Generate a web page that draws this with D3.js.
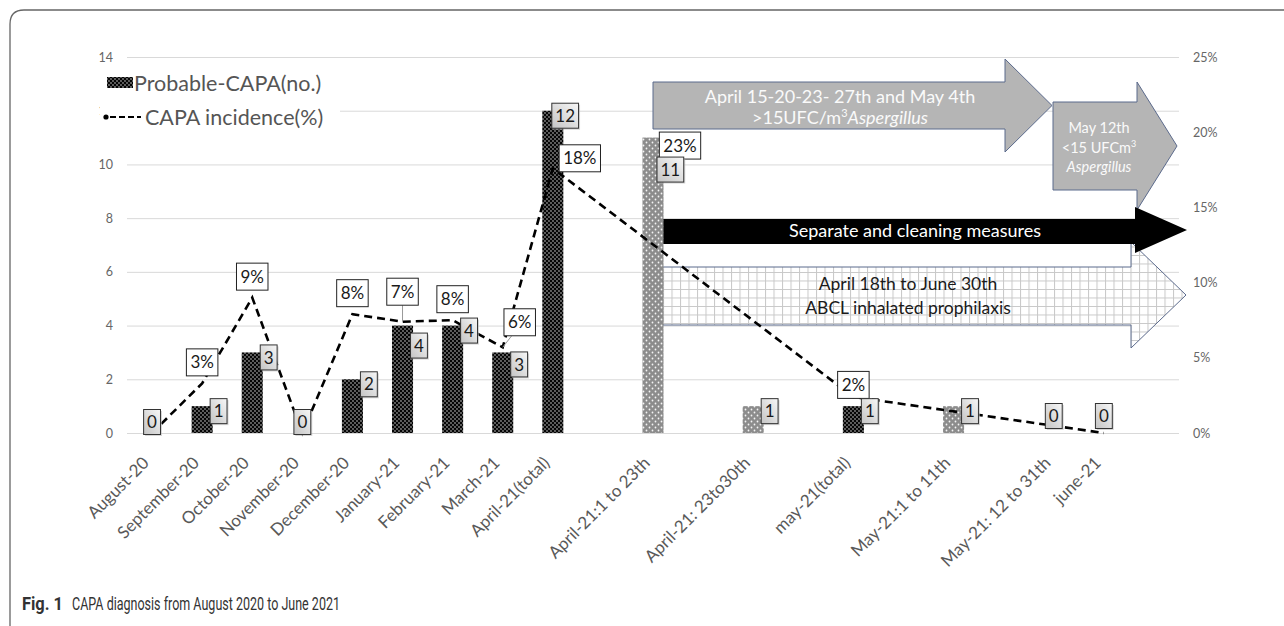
<!DOCTYPE html>
<html><head><meta charset="utf-8">
<script src="https://cdn.jsdelivr.net/npm/d3@7"></script>
<style>body{margin:0;background:#fff}svg{display:block}</style>
</head><body><svg id="c" width="1284" height="626"></svg>
<script>
// ---- data ----
const categories = ["August-20","September-20","October-20","November-20","December-20","January-21","February-21","March-21","April-21(total)","","April-21:1 to 23th","","April-21: 23to30th","","may-21(total)","","May-21:1 to 11th","","May-21: 12 to 31th","june-21",""];
const cases      = [0,1,3,0,2,4,4,3,12,null,11,null,1,null,1,null,1,null,0,0,null];
const barKind    = ["dark","dark","dark","dark","dark","dark","dark","dark","dark",null,"gray",null,"gray",null,"dark",null,"gray",null,"gray","dark",null];
const incidence  = [0,3.3,9,0,7.9,7.4,7.5,5.7,17.6,null,null,null,null,null,2.4,null,null,null,null,0,null];
const incidenceLabels = ["","3%","9%","","8%","7%","8%","6%","18%","","23%","","","","2%","","","","","",""];
const leftTicks  = [0,2,4,6,8,10,12,14];
const rightTicks = [0,0.05,0.10,0.15,0.20,0.25];
const seriesNames = ["Probable-CAPA(no.)","CAPA incidence(%)"];
const caption = ["Fig. 1","CAPA diagnosis from August 2020 to June 2021"];

const FONT = "Lato, 'Open Sans', sans-serif";
const svg = d3.select("#c");
const defs = svg.append("defs");

// patterns
const pd = defs.append("pattern").attr("id","pDark").attr("patternUnits","userSpaceOnUse").attr("width",4).attr("height",4);
pd.append("rect").attr("width",4).attr("height",4).attr("fill","#050505");
pd.append("circle").attr("cx",1).attr("cy",1).attr("r",0.65).attr("fill","#fff");
pd.append("circle").attr("cx",3).attr("cy",3).attr("r",0.65).attr("fill","#fff");
const pg = defs.append("pattern").attr("id","pGray").attr("patternUnits","userSpaceOnUse").attr("width",6).attr("height",6);
pg.append("rect").attr("width",6).attr("height",6).attr("fill","#8c8c8c");
pg.append("circle").attr("cx",1.5).attr("cy",1.5).attr("r",0.9).attr("fill","#f4f4f4");
pg.append("circle").attr("cx",4.5).attr("cy",4.5).attr("r",0.9).attr("fill","#f4f4f4");
const pgrid = defs.append("pattern").attr("id","pGrid").attr("patternUnits","userSpaceOnUse").attr("width",8.5).attr("height",8.5);
pgrid.append("rect").attr("width",8.5).attr("height",8.5).attr("fill","#fff");
pgrid.append("path").attr("d","M0,0.5H8.5M0.5,0V8.5").attr("stroke","#c8c8c8").attr("stroke-width",1);
const lg = defs.append("linearGradient").attr("id","gLab").attr("x1",0).attr("y1",1).attr("x2",1).attr("y2",0);
lg.append("stop").attr("offset","0%").attr("stop-color","#c4c4c4");
lg.append("stop").attr("offset","100%").attr("stop-color","#f7f7f7");

// frame
svg.append("path").attr("d","M10,626V24Q10,10 24,10H1284").attr("fill","none").attr("stroke","#666").attr("stroke-width",1.3);

// scales
const x = d3.scaleBand().domain(d3.range(categories.length)).range([127,1179]).paddingInner(0.58).paddingOuter(0.29);
const yL = d3.scaleLinear().domain([0,14]).range([433,57]);
const yR = d3.scaleLinear().domain([0,0.25]).range([433,57]);
const cx = i => x(i) + x.bandwidth()/2;

// gridlines
svg.append("g").attr("transform","translate(127,0)")
  .call(d3.axisLeft(yL).tickValues(leftTicks).tickSize(-1052).tickFormat(""))
  .call(g=>g.select(".domain").remove())
  .call(g=>g.selectAll("line").attr("stroke","#d9d9d9").attr("stroke-width",1));

// left axis labels
svg.append("g").attr("transform","translate(117,0)")
  .call(d3.axisLeft(yL).tickValues(leftTicks).tickSize(0).tickPadding(4))
  .call(g=>g.select(".domain").remove())
  .call(g=>g.selectAll("text").attr("font-family",FONT).attr("font-size",12.5).attr("fill","#666"));

// right axis labels
svg.append("g").attr("transform","translate(1189,0)")
  .call(d3.axisRight(yR).tickValues(rightTicks).tickSize(0).tickPadding(4).tickFormat(d3.format(".0%")))
  .call(g=>g.select(".domain").remove())
  .call(g=>g.selectAll("text").attr("font-family",FONT).attr("font-size",12.5).attr("fill","#666"));

// x axis labels
svg.append("g").attr("transform","translate(0,442)")
  .call(d3.axisBottom(x).tickSize(0).tickFormat(i=>categories[i]))
  .call(g=>g.select(".domain").remove())
  .call(g=>g.selectAll("text").attr("font-family",FONT).attr("font-size",17).attr("fill","#595959")
     .attr("text-anchor","end").attr("y",0).attr("dy",0).attr("transform","translate(-2,22) rotate(-45)"));

// legend background
svg.append("rect").attr("x",100).attr("y",66).attr("width",240).attr("height",62).attr("fill","#fff");

// arrows (annotations)
const arrow = (x0,x1,by0,by1,hy0,hy1,tx) => `M${x0},${by0}H${x1}V${hy0}L${tx},${(hy0+hy1)/2}L${x1},${hy1}V${by1}H${x0}Z`;
const ann = svg.append("g");
ann.append("path").attr("d",arrow(653,1005,82,129,59,152,1052)).attr("fill","#b5b5b5").attr("stroke","#5b6a8c").attr("stroke-width",1);
ann.append("path").attr("d",arrow(1053,1137,102,190,82,210,1177)).attr("fill","#b5b5b5").attr("stroke","#5b6a8c").attr("stroke-width",1);
ann.append("path").attr("d",arrow(657,1131,267,325,242,348,1186)).attr("fill","url(#pGrid)").attr("stroke","#5b6a8c").attr("stroke-width",1);
ann.append("path").attr("d",arrow(658,1135,219,244,207,253,1187)).attr("fill","#000");

const t1 = ann.append("text").attr("font-family",FONT).attr("fill","#fafafa").attr("text-anchor","middle").attr("font-size",18);
t1.append("tspan").attr("x",840).attr("y",103).text("April 15-20-23- 27th and May 4th");
const l2 = t1.append("tspan").attr("x",840).attr("y",124);
l2.append("tspan").text(">15UFC/m");
l2.append("tspan").attr("font-size",11).attr("dy",-7).text("3");
l2.append("tspan").attr("font-style","italic").attr("dy",7).text("Aspergillus");

const t2 = ann.append("text").attr("font-family",FONT).attr("fill","#fafafa").attr("text-anchor","middle").attr("font-size",14.5);
t2.append("tspan").attr("x",1099).attr("y",133).text("May 12th");
const m2 = t2.append("tspan").attr("x",1099).attr("y",153);
m2.append("tspan").text("<15 UFCm");
m2.append("tspan").attr("font-size",9).attr("dy",-6).text("3");
t2.append("tspan").attr("x",1099).attr("y",172).attr("font-style","italic").text("Aspergillus");

ann.append("text").attr("x",915).attr("y",237).attr("text-anchor","middle").attr("font-family",FONT).attr("font-size",18).attr("fill","#fff").text("Separate and cleaning measures");
const t4 = ann.append("text").attr("font-family",FONT).attr("fill","#1a1a1a").attr("text-anchor","middle").attr("font-size",17.5);
t4.append("tspan").attr("x",908).attr("y",290).text("April 18th to June 30th");
t4.append("tspan").attr("x",908).attr("y",314).text("ABCL inhalated prophilaxis");

// bars
const barData = cases.map((v,i)=>({i,v,k:barKind[i]})).filter(d=>d.v!==null);
svg.append("g").selectAll("rect").data(barData.filter(d=>d.v>0)).join("rect")
  .attr("x",d=>x(d.i)).attr("width",x.bandwidth())
  .attr("y",d=>yL(d.v)).attr("height",d=>yL(0)-yL(d.v))
  .attr("fill",d=>d.k==="dark"?"url(#pDark)":"url(#pGray)");

// incidence line
const lineData = incidence.map((v,i)=>({i,v})).filter(d=>d.v!==null);
svg.append("path").datum(lineData)
  .attr("d",d3.line().x(d=>cx(d.i)).y(d=>yR(d.v/100)))
  .attr("fill","none").attr("stroke","#000").attr("stroke-width",2.6).attr("stroke-dasharray","8,5");

// leader lines
const leaders = svg.append("g").attr("stroke","#999").attr("stroke-width",1);

// percent labels
const pctOff = {5:[0,-30,true],7:[17,-25,true],8:[27,-10],10:[27,8],14:[0,-12]};
incidenceLabels.forEach((lab,i)=>{
  if(!lab) return;
  let px = cx(i), py = incidence[i]!==null ? yR(incidence[i]/100) : yL(cases[i]);
  const o = pctOff[i] || [0,-21];
  const bx = px+o[0], by = py+o[1];
  const g = svg.append("g");
  const t = g.append("text").attr("x",bx).attr("y",by).attr("dy","0.36em").attr("text-anchor","middle")
    .attr("font-family",FONT).attr("font-size",17).attr("fill","#1a1a1a").text(lab);
  const w = t.node().getComputedTextLength()+8, h=27;
  if(o[2]) leaders.append("line").attr("x1",bx-(o[0]?8:0)).attr("y1",by+h/2).attr("x2",px).attr("y2",py);
  g.insert("rect","text").attr("x",bx-w/2).attr("y",by-h/2).attr("width",w).attr("height",h).attr("fill","#fff").attr("stroke","#222").attr("stroke-width",1);
});

// bar value labels
const barOff = {5:[0,15],7:[0,7],8:[-9,0],10:[-4,27]};
barData.forEach(d=>{
  const g = svg.append("g");
  let bx, by;
  if(d.v===0){ bx = cx(d.i); by = d.i>=18 ? yL(0)-17 : yL(0)-11; }
  else { const o = barOff[d.i]||[0,0]; by = yL(d.v)-7+12+o[1]; bx = cx(d.i)+8+o[0]; }
  const t = g.append("text").attr("y",by).attr("dy","0.36em").attr("text-anchor","middle")
    .attr("font-family",FONT).attr("font-size",17).attr("fill","#1a1a1a").text(d.v);
  const w = t.node().getComputedTextLength()+7, h=25;
  const left = d.v===0 ? bx-w/2 : bx;
  t.attr("x",left+w/2);
  g.insert("rect","text").attr("x",left+1.5).attr("y",by-h/2+1.5).attr("width",w).attr("height",h).attr("fill","#bbb").attr("opacity",0.6);
  g.insert("rect","text").attr("x",left).attr("y",by-h/2).attr("width",w).attr("height",h).attr("fill","url(#gLab)").attr("stroke","#333").attr("stroke-width",1);
});

// legend
const leg = svg.append("g").attr("font-family",FONT).attr("fill","#555").attr("font-size",21.5);
leg.append("rect").attr("x",107).attr("y",77).attr("width",26).attr("height",11).attr("fill","url(#pDark)");
leg.append("text").attr("x",134).attr("y",91).text(seriesNames[0]);
leg.append("circle").attr("cx",106).attr("cy",117).attr("r",2.6).attr("fill","#000");
leg.append("line").attr("x1",110).attr("x2",141).attr("y1",117).attr("y2",117).attr("stroke","#000").attr("stroke-width",2).attr("stroke-dasharray","6,3");
leg.append("text").attr("x",145).attr("y",125).text(seriesNames[1]);

// caption
svg.append("text").attr("x",22).attr("y",610).attr("font-family","Roboto, sans-serif").attr("font-weight","bold")
  .attr("font-size",17.5).attr("fill","#333").attr("textLength",41).attr("lengthAdjust","spacingAndGlyphs").text(caption[0]);
svg.append("text").attr("x",72).attr("y",610).attr("font-family","Roboto, sans-serif")
  .attr("font-size",17.5).attr("fill","#333").attr("textLength",268).attr("lengthAdjust","spacingAndGlyphs").text(caption[1]);
</script>
</body></html>
